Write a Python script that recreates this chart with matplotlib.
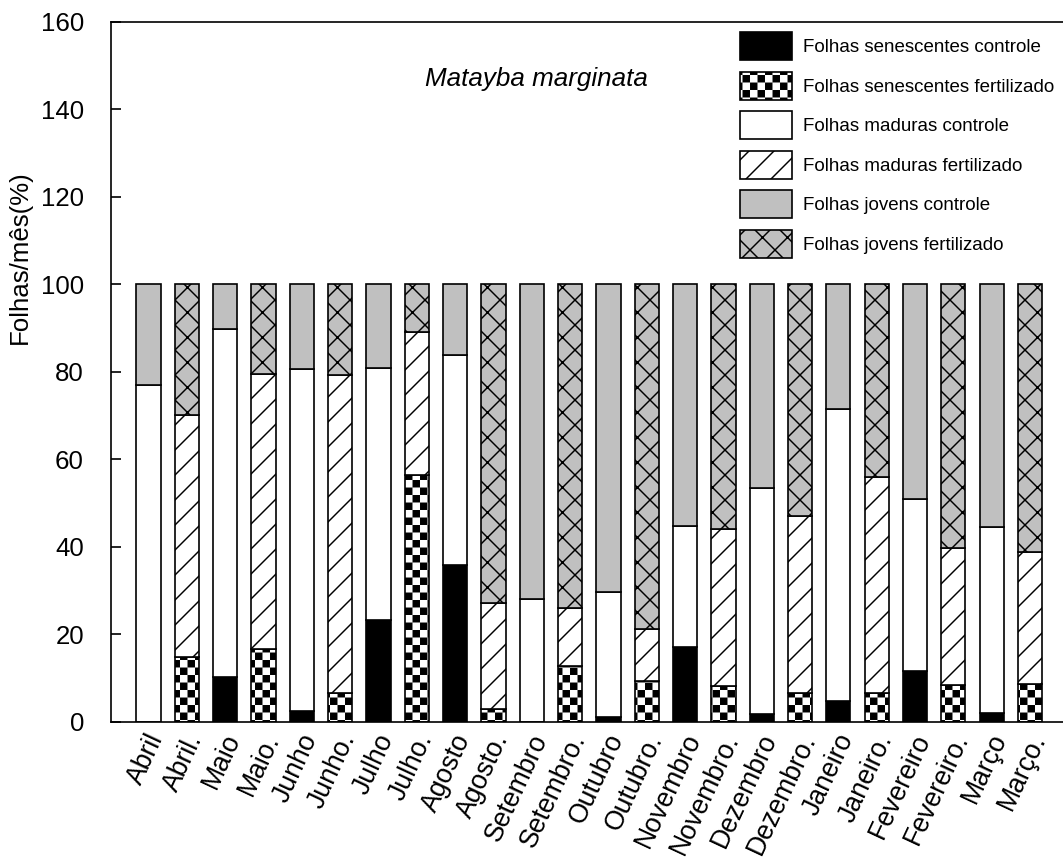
import numpy as np
import matplotlib
matplotlib.use('Agg')
import matplotlib.pyplot as plt
import matplotlib.hatch as mhatch
import matplotlib.transforms as mtrans
from matplotlib.path import Path

plt.rcParams['font.family'] = 'Liberation Sans'
plt.rcParams['hatch.linewidth'] = 0.7

meses = ['Abril', 'Abril.', 'Maio', 'Maio.', 'Junho', 'Junho.', 'Julho', 'Julho.',
         'Agosto', 'Agosto.', 'Setembro', 'Setembro.', 'Outubro', 'Outubro.',
         'Novembro', 'Novembro.', 'Dezembro', 'Dezembro.', 'Janeiro', 'Janeiro.',
         'Fevereiro', 'Fevereiro.', 'Março', 'Março.']

# controle (% of leaves per month)
sen_c = np.array([0, 10.2, 2.5, 23.3, 35.9, 0, 1.0, 17.1, 1.8, 4.7, 11.6, 1.9])
mad_c = np.array([77.1, 79.5, 78.2, 57.6, 47.9, 28.0, 28.7, 27.7, 51.7, 66.7, 39.4, 42.6])
jov_c = np.array([22.9, 10.3, 19.3, 19.1, 16.2, 72.0, 70.3, 55.2, 46.5, 28.6, 49.0, 55.5])

# fertilizado
sen_f = np.array([14.9, 16.6, 6.6, 56.5, 2.8, 12.8, 9.3, 8.2, 6.5, 6.5, 8.4, 8.6])
mad_f = np.array([55.3, 63.0, 72.6, 32.7, 24.3, 13.3, 11.9, 35.9, 40.5, 49.4, 31.3, 30.3])
jov_f = np.array([29.8, 20.4, 20.8, 10.8, 72.9, 73.9, 78.8, 55.9, 53.0, 44.1, 60.3, 61.1])


class Checker(mhatch.HatchPatternBase):
    # filled checkerboard, used for the 'O' hatch
    filled = True

    def __init__(self, hatch, density):
        self.cells = 20 if 'O' in hatch else 0
        self.num_vertices = (self.cells ** 2 // 2) * 5

    def set_vertices_and_codes(self, vertices, codes):
        n = self.cells
        s = 1.0 / n
        g = 0.005
        k = 0
        for i in range(n):
            for j in range(n):
                if (i + j) % 2:
                    continue
                x0, y0 = j * s + g, i * s + g
                x1, y1 = x0 + s - 2 * g, y0 + s - 2 * g
                vertices[k:k + 5] = [(x0, y0), (x1, y0), (x1, y1), (x0, y1), (x0, y0)]
                codes[k:k + 5] = [Path.MOVETO, Path.LINETO, Path.LINETO,
                                  Path.LINETO, Path.CLOSEPOLY]
                k += 5


mhatch._hatch_types = [Checker if t is mhatch.LargeCircles else t
                       for t in mhatch._hatch_types]

fig = plt.figure(figsize=(1063 / 150, 865 / 150), dpi=150)
ax = fig.add_axes([111 / 1063, 1 - 721.7 / 865, 1 - 111 / 1063, (721.7 - 22) / 865])

x = np.arange(len(meses))
xc = x[0::2]
xf = x[1::2]
w = 0.63
kw = dict(width=w, edgecolor='black', linewidth=0.8)
gray = '#c0c0c0'

b1 = ax.bar(xc, sen_c, facecolor='black', **kw)
b3 = ax.bar(xc, mad_c, bottom=sen_c, facecolor='white', **kw)
b5 = ax.bar(xc, jov_c, bottom=sen_c + mad_c, facecolor=gray, **kw)
b2 = ax.bar(xf, sen_f, facecolor='white', hatch='O', **kw)
b4 = ax.bar(xf, mad_f, bottom=sen_f, facecolor='white', hatch='//', **kw)
b6 = ax.bar(xf, jov_f, bottom=sen_f + mad_f, facecolor=gray, hatch='xx', **kw)

ax.set_xlim(-0.98, 23.86)
ax.set_ylim(0, 160)
ax.set_yticks(np.arange(0, 161, 20))
ax.tick_params(axis='y', direction='in', length=4.8, width=0.8, labelsize=12.4, pad=13)
ax.tick_params(axis='x', length=0, labelsize=12.8, pad=4)
ax.set_xticks(x)
ax.set_xticklabels(meses, rotation=65, ha='right', va='center', rotation_mode='anchor')
shift = mtrans.ScaledTranslation(9 / 150, -5 / 150, fig.dpi_scale_trans)
for lab in ax.get_xticklabels():
    lab.set_transform(lab.get_transform() + shift)

ax.spines['right'].set_visible(False)
for s in ['left', 'top', 'bottom']:
    ax.spines[s].set_linewidth(0.8)

ax.set_ylabel('Folhas/mês(%)', fontsize=12.4)
ax.yaxis.set_label_coords(-0.083, 0.664)

ax.text(0.447, 0.918, 'Matayba marginata', style='italic', fontsize=12.5,
        ha='center', va='center', transform=ax.transAxes)

handles = [b1, b2, b3, b4, b5, b6]
labels = ['Folhas senescentes controle', 'Folhas senescentes fertilizado',
          'Folhas maduras controle', 'Folhas maduras fertilizado',
          'Folhas jovens controle', 'Folhas jovens fertilizado']
fig.legend(handles, labels, loc='upper left', bbox_to_anchor=(740 / 1063, 1 - 32 / 865),
           frameon=False, fontsize=9, handlelength=2.77, handleheight=1.92,
           labelspacing=0.62, handletextpad=0.6, borderpad=0, borderaxespad=0)

fig.savefig('out.png', dpi=150)
